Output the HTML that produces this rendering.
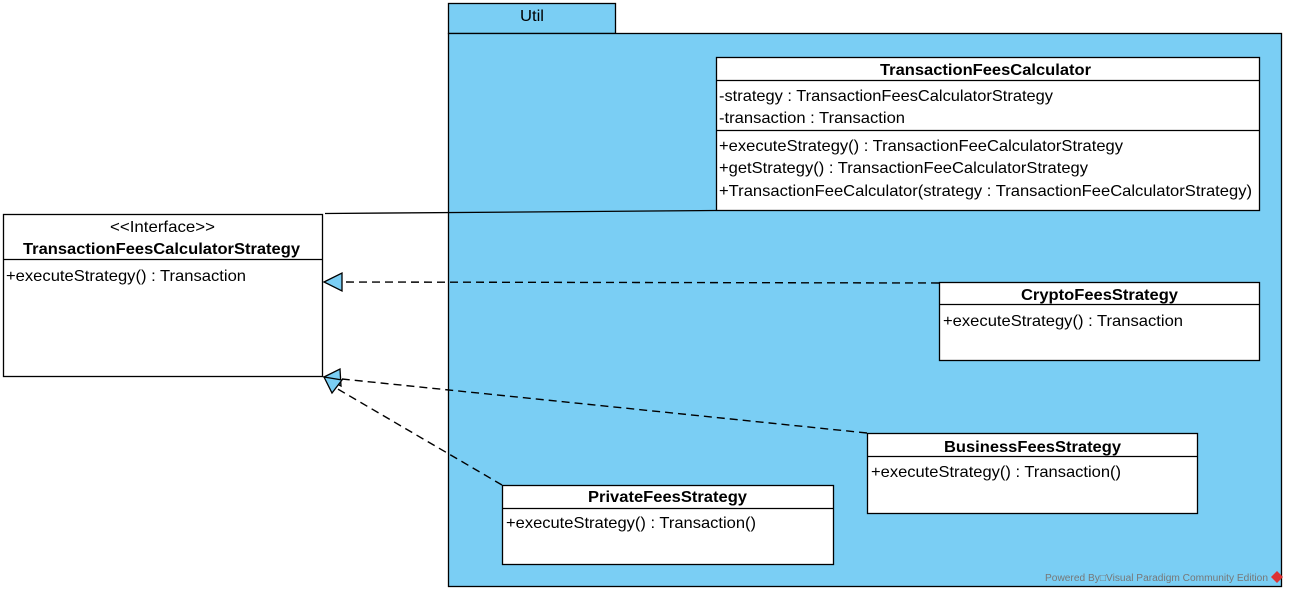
<!DOCTYPE html>
<html><head><style>body{margin:0;background:#fff}svg{display:block}text{font-family:"Liberation Sans",Arial,sans-serif;font-size:16px;fill:#000}</style></head>
<body>
<svg width="1289" height="594" viewBox="0 0 1289 594" xmlns="http://www.w3.org/2000/svg">
<g stroke-width="1.3">
<rect x="448.5" y="3.5" width="167" height="30" fill="#7ACEF4" stroke="#000"/>
<text x="520" y="21" textLength="24" lengthAdjust="spacingAndGlyphs">Util</text>
<rect x="448.5" y="33.5" width="833" height="553" fill="#7ACEF4" stroke="#000"/>
<text x="1045" y="581" textLength="223" lengthAdjust="spacingAndGlyphs" style="font-size:10px;fill:#777">Powered By□Visual Paradigm Community Edition</text>
<path d="M1271 577 l6-6 6 6 -6 6z" fill="#d33"/>

<line x1="325" y1="213.5" x2="716" y2="210.5" stroke="#000" stroke-width="1.3"/>

<g stroke="#000" stroke-width="1.4" stroke-dasharray="8,5" fill="none">
<line x1="939" y1="283" x2="342" y2="282"/>
<line x1="867" y1="433" x2="342" y2="379"/>
<line x1="502" y1="485" x2="336" y2="388"/>
</g>
<g fill="#7ACEF4" stroke="#000" stroke-width="1.3">
<polygon points="324,282 342,273 342,291"/>
<polygon points="324,377 340,369 341,386"/>
<polygon points="324,377 342,380 332,393"/>
</g>

<rect x="3.5" y="214.5" width="319" height="162" fill="#fff" stroke="#000"/>
<line x1="3.5" y1="259.5" x2="322.5" y2="259.5" stroke="#000"/>
<text x="110" y="232" textLength="105" lengthAdjust="spacingAndGlyphs">&lt;&lt;Interface&gt;&gt;</text>
<text x="23" y="254" font-weight="bold" textLength="277" lengthAdjust="spacingAndGlyphs">TransactionFeesCalculatorStrategy</text>
<text x="6" y="281" textLength="240" lengthAdjust="spacingAndGlyphs">+executeStrategy() : Transaction</text>

<rect x="716.5" y="57.5" width="543" height="153" fill="#fff" stroke="#000"/>
<line x1="716.5" y1="80.5" x2="1259.5" y2="80.5" stroke="#000"/>
<line x1="716.5" y1="130.5" x2="1259.5" y2="130.5" stroke="#000"/>
<text x="880" y="75" font-weight="bold" textLength="211" lengthAdjust="spacingAndGlyphs">TransactionFeesCalculator</text>
<text x="719" y="101" textLength="334" lengthAdjust="spacingAndGlyphs">-strategy : TransactionFeesCalculatorStrategy</text>
<text x="719" y="123" textLength="186" lengthAdjust="spacingAndGlyphs">-transaction : Transaction</text>
<text x="719" y="151" textLength="404" lengthAdjust="spacingAndGlyphs">+executeStrategy() : TransactionFeeCalculatorStrategy</text>
<text x="719" y="173" textLength="369" lengthAdjust="spacingAndGlyphs">+getStrategy() : TransactionFeeCalculatorStrategy</text>
<text x="719" y="196" textLength="533" lengthAdjust="spacingAndGlyphs">+TransactionFeeCalculator(strategy : TransactionFeeCalculatorStrategy)</text>

<rect x="939.5" y="282.5" width="320" height="78" fill="#fff" stroke="#000"/>
<line x1="939.5" y1="304.5" x2="1259.5" y2="304.5" stroke="#000"/>
<text x="1021" y="300" font-weight="bold" textLength="157" lengthAdjust="spacingAndGlyphs">CryptoFeesStrategy</text>
<text x="943" y="326" textLength="240" lengthAdjust="spacingAndGlyphs">+executeStrategy() : Transaction</text>

<rect x="867.5" y="433.5" width="330" height="80" fill="#fff" stroke="#000"/>
<line x1="867.5" y1="456.5" x2="1197.5" y2="456.5" stroke="#000"/>
<text x="944" y="452" font-weight="bold" textLength="177" lengthAdjust="spacingAndGlyphs">BusinessFeesStrategy</text>
<text x="871" y="477" textLength="250" lengthAdjust="spacingAndGlyphs">+executeStrategy() : Transaction()</text>

<rect x="502.5" y="485.5" width="331" height="79" fill="#fff" stroke="#000"/>
<line x1="502.5" y1="508.5" x2="833.5" y2="508.5" stroke="#000"/>
<text x="588" y="502" font-weight="bold" textLength="159" lengthAdjust="spacingAndGlyphs">PrivateFeesStrategy</text>
<text x="506" y="528" textLength="250" lengthAdjust="spacingAndGlyphs">+executeStrategy() : Transaction()</text>
</g>
</svg>
</body></html>
